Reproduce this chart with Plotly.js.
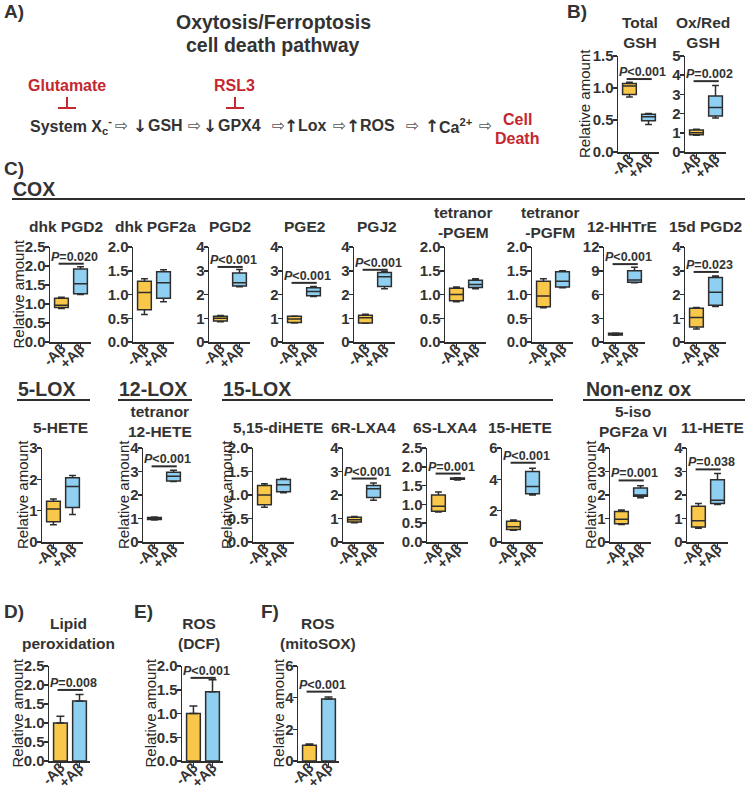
<!DOCTYPE html>
<html><head><meta charset="utf-8">
<script src="https://cdn.plot.ly/plotly-3.0.1.min.js"></script>
<style>html,body{margin:0;padding:0;background:#fff}#chart{width:748px;height:792px}</style>
</head><body><div id="chart"></div>
<script>
// ---------------- DATA ----------------
const groups = ['-Aβ', '+Aβ'];

// Box-plot panels (B + C)
const boxTitles = ['Total<br>GSH', 'Ox/Red<br>GSH',
  'dhk PGD2', 'dhk PGF2a', 'PGD2', 'PGE2', 'PGJ2', 'tetranor<br>-PGEM', 'tetranor<br>-PGFM', '12-HHTrE', '15d PGD2',
  '5-HETE', 'tetranor<br>12-HETE', '5,15-diHETE', '6R-LXA4', '6S-LXA4', '15-HETE', '5-iso<br>PGF2a VI', '11-HETE'];
const negMin = [0.86, 0.87, 0.88, 0.58, 0.85, 0.80, 0.79, 0.85, 0.72, 0.85, 0.55, 0.55, 0.94, 0.74, 0.82, 0.80, 0.75, 0.75, 0.58];
const negQ1  = [0.90, 0.90, 0.91, 0.68, 0.88, 0.82, 0.80, 0.87, 0.74, 0.90, 0.63, 0.65, 0.96, 0.79, 0.85, 0.82, 0.80, 0.78, 0.64];
const negMed = [1.03, 1.00, 0.97, 1.04, 1.00, 0.97, 1.02, 1.00, 0.97, 1.00, 1.03, 1.05, 1.00, 1.00, 0.95, 0.95, 0.97, 0.97, 0.90];
const negQ3  = [1.07, 1.15, 1.15, 1.28, 1.08, 1.08, 1.13, 1.13, 1.28, 1.10, 1.42, 1.30, 1.04, 1.20, 1.05, 1.25, 1.32, 1.30, 1.52];
const negMax = [1.09, 1.19, 1.18, 1.33, 1.12, 1.10, 1.17, 1.16, 1.33, 1.15, 1.45, 1.37, 1.06, 1.24, 1.08, 1.33, 1.40, 1.36, 1.64];
const posMin = [0.43, 1.77, 1.25, 0.85, 2.33, 1.92, 2.24, 1.12, 1.14, 7.50, 1.50, 0.88, 2.57, 1.05, 1.78, 1.65, 3.00, 1.88, 1.60];
const posQ1  = [0.49, 1.88, 1.27, 0.92, 2.36, 1.95, 2.34, 1.15, 1.16, 7.55, 1.55, 1.10, 2.60, 1.07, 1.89, 1.67, 3.08, 1.95, 1.64];
const posMed = [0.55, 2.32, 1.53, 1.25, 2.49, 2.13, 2.75, 1.21, 1.28, 7.82, 2.10, 1.77, 2.80, 1.22, 2.27, 1.68, 3.55, 2.00, 1.78];
const posQ3  = [0.59, 2.92, 1.92, 1.48, 2.91, 2.28, 2.93, 1.30, 1.48, 9.00, 2.72, 2.05, 2.97, 1.33, 2.40, 1.70, 4.50, 2.30, 2.65];
const posMax = [0.60, 3.46, 1.98, 1.52, 3.05, 2.34, 2.97, 1.33, 1.50, 9.45, 2.78, 2.12, 3.05, 1.35, 2.51, 1.71, 4.70, 2.39, 2.92];
const boxP     = ['<0.001', '=0.002', '=0.020', '', '<0.001', '<0.001', '<0.001', '', '', '<0.001', '=0.023',
                  '', '<0.001', '', '<0.001', '=0.001', '<0.001', '=0.001', '=0.038'];
const boxPLine = [1.14, 3.69, 2.06, 0, 3.16, 2.49, 3.04, 0, 0, 9.84, 2.95, 0, 3.22, 0, 2.70, 1.82, 5.06, 2.62, 3.09];
const boxYMax  = [1.5, 5, 2.5, 2.0, 4, 4, 4, 2.0, 2.0, 12, 4, 3, 4, 2.0, 4, 2.5, 6, 4, 4];
const boxYStep = [0.5, 1, 0.5, 0.5, 1, 1, 1, 0.5, 0.5, 3, 1, 1, 1, 0.5, 1, 0.5, 2, 1, 1];

// Bar panels (D, E, F)
const barTitles = ['Lipid<br>peroxidation', 'ROS<br>(DCF)', 'ROS<br>(mitoSOX)'];
const barNeg    = [1.00, 1.00, 1.00];
const barNegErr = [0.18, 0.16, 0.07];
const barPos    = [1.58, 1.46, 3.92];
const barPosErr = [0.17, 0.25, 0.13];
const barP      = ['=0.008', '<0.001', '<0.001'];
const barPLine  = [1.87, 1.75, 4.38];
const barYMax   = [2.5, 2.0, 6];
const barYStep  = [0.5, 0.5, 2];

// ---------------- LAYOUT GEOMETRY (pixels) ----------------
const W = 748, H = 792, PW = 41;
const boxX0  = [618, 685, 50, 133, 209, 283, 354, 445, 532, 604, 685, 42, 143, 253, 343, 427, 502, 610, 687];
const boxRow = [0, 0, 1, 1, 1, 1, 1, 1, 1, 1, 1, 2, 2, 2, 2, 2, 2, 2, 2];
const boxTitleDx = [22, 18, 16, 22, 21, 21, 23, 18, 18, 18, 20, 18, 17, 25, 20, 18, 18, 23, 25];
const boxYT  = {0: 585, 2: 18, 11: 22, 12: 123, 13: 226, 17: 590};
const barX0  = [49, 182, 298];
const barYT  = [17, 150, 278];
const barTitleX = [68, 199, 318];
const rowTop = [56, 247, 448, 666];
const rowBot = [152, 342, 542, 761];
const titleSingle = [32, 227, 427, 633];
const titleDouble = [32.5, 222.5, 421, 633];

const FONT = '"Liberation Sans", Arial, Helvetica, sans-serif';
const TXT = '#333333', LINE = '#2e2e2e', YEL = '#F9C74A', BLU = '#8FCFF1', RED = '#C4272F';

const traces = [];
const layout = {
  width: W, height: H, margin: {l: 0, r: 0, t: 0, b: 0}, showlegend: false,
  paper_bgcolor: '#ffffff', plot_bgcolor: 'rgba(0,0,0,0)',
  font: {family: FONT, color: TXT},
  annotations: [], shapes: []
};

function px(x) { return x / W; }
function py(y) { return 1 - y / H; }
function txt(text, x, y, size, o) {
  o = o || {};
  layout.annotations.push({
    text: text, x: px(x), y: py(y), xref: 'paper', yref: 'paper', showarrow: false,
    xanchor: o.xanchor || 'center', yanchor: o.yanchor || 'middle', textangle: o.angle || 0,
    font: {family: o.family || FONT, size: size, color: o.color || TXT, weight: o.weight || 'bold'}
  });
}
function pline(x0, y0, x1, y1, color, width) {
  layout.shapes.push({type: 'line', xref: 'paper', yref: 'paper', x0: px(x0), y0: py(y0), x1: px(x1), y1: py(y1),
    line: {color: color, width: width}});
}

let axCount = 0;
function addAxes(x0, row, yMax, yStep) {
  axCount++;
  const k = axCount === 1 ? '' : String(axCount);
  layout['xaxis' + k] = {
    domain: [px(x0), px(x0 + PW)], anchor: 'y' + k, type: 'category',
    categoryorder: 'array', categoryarray: groups, range: [-0.6, 1.55],
    showline: true, linecolor: LINE, linewidth: 1.5, ticks: 'outside', ticklen: 5, tickwidth: 1.5, tickcolor: LINE,
    tickangle: -45, ticklabelstandoff: -14, tickfont: {family: FONT, size: 14.5, color: TXT, weight: 'bold'},
    showgrid: false, zeroline: false, fixedrange: true
  };
  layout['yaxis' + k] = {
    domain: [py(rowBot[row]), py(rowTop[row])], anchor: 'x' + k, range: [0, yMax], tick0: 0, dtick: yStep,
    tickformat: (yStep < 1) ? '.1f' : 'd',
    showline: true, linecolor: LINE, linewidth: 1.5, ticks: 'outside', ticklen: 4, tickwidth: 1.5, tickcolor: LINE,
    ticklabelstandoff: -4, tickfont: {family: FONT, size: 15, color: TXT, weight: 'bold'},
    showgrid: false, zeroline: false, fixedrange: true
  };
  return k;
}
function addP(k, label, yLine) {
  if (!label) return;
  layout.shapes.push({type: 'line', xref: 'x' + k, yref: 'y' + k, x0: -0.15, x1: 1.17, y0: yLine, y1: yLine,
    line: {color: LINE, width: 2}});
  layout.annotations.push({text: '<i>P</i>' + label, xref: 'x' + k, yref: 'y' + k, x: 0.5, y: yLine,
    xshift: 4, yshift: -2, showarrow: false, xanchor: 'center', yanchor: 'bottom',
    font: {family: FONT, size: 12.5, color: TXT, weight: 'bold'}});
}
function addTitle(text, xc, row) {
  const y = text.indexOf('<br>') >= 0 ? titleDouble[row] : titleSingle[row];
  txt(text, xc, y, 15.5);
}
function yTitle(x, row) {
  txt('Relative amount', x, (rowTop[row] + rowBot[row]) / 2, 15, {angle: -90, weight: 'normal', color: '#262626'});
}

// Box panels
boxTitles.forEach(function (t, i) {
  const row = boxRow[i];
  const k = addAxes(boxX0[i], row, boxYMax[i], boxYStep[i]);
  const common = {type: 'box', xaxis: 'x' + k, yaxis: 'y' + k, line: {color: LINE, width: 1.5},
    width: 0.72, whiskerwidth: 0.5, boxpoints: false, hoverinfo: 'skip'};
  traces.push(Object.assign({}, common, {x: [groups[0]], q1: [negQ1[i]], median: [negMed[i]], q3: [negQ3[i]],
    lowerfence: [negMin[i]], upperfence: [negMax[i]], fillcolor: YEL}));
  traces.push(Object.assign({}, common, {x: [groups[1]], q1: [posQ1[i]], median: [posMed[i]], q3: [posQ3[i]],
    lowerfence: [posMin[i]], upperfence: [posMax[i]], fillcolor: BLU}));
  addP(k, boxP[i], boxPLine[i]);
  addTitle(t, boxX0[i] + boxTitleDx[i], row);
  if (boxYT[i] !== undefined) yTitle(boxYT[i], row);
});

// Bar panels
barTitles.forEach(function (t, i) {
  const k = addAxes(barX0[i], 3, barYMax[i], barYStep[i]);
  const common = {type: 'bar', xaxis: 'x' + k, yaxis: 'y' + k, width: 0.72, hoverinfo: 'skip'};
  traces.push(Object.assign({}, common, {x: [groups[0]], y: [barNeg[i]],
    marker: {color: YEL, line: {color: LINE, width: 1.5}},
    error_y: {type: 'data', array: [barNegErr[i]], arrayminus: [0], symmetric: false, color: LINE, thickness: 1.5, width: 4}}));
  traces.push(Object.assign({}, common, {x: [groups[1]], y: [barPos[i]],
    marker: {color: BLU, line: {color: LINE, width: 1.5}},
    error_y: {type: 'data', array: [barPosErr[i]], arrayminus: [0], symmetric: false, color: LINE, thickness: 1.5, width: 4}}));
  addP(k, barP[i], barPLine[i]);
  addTitle(t, barTitleX[i], 3);
  yTitle(barYT[i], 3);
});

// Panel letters
txt('A)', 2, 12, 19, {xanchor: 'left'});
txt('B)', 565, 12, 19, {xanchor: 'left'});
txt('C)', 2, 168, 19, {xanchor: 'left'});
txt('D)', 2, 611, 19, {xanchor: 'left'});
txt('E)', 132, 611, 19, {xanchor: 'left'});
txt('F)', 259, 611, 19, {xanchor: 'left'});

// Group headers with rules
txt('COX', 11, 189, 19.5, {xanchor: 'left'});
pline(12, 199, 745, 199, LINE, 2);
txt('5-LOX', 16, 389, 19.5, {xanchor: 'left'});
pline(17, 400, 90, 400, LINE, 2);
txt('12-LOX', 117, 389, 19.5, {xanchor: 'left'});
pline(118, 400, 192, 400, LINE, 2);
txt('15-LOX', 221, 389, 19.5, {xanchor: 'left'});
pline(222, 400, 553, 400, LINE, 2);
txt('Non-enz ox', 584, 389, 19.5, {xanchor: 'left'});
pline(583, 400, 745, 400, LINE, 2);

// Panel A diagram
txt('Oxytosis/Ferroptosis', 273, 22, 19.5);
txt('cell death pathway', 273, 45, 19.5);
txt('Glutamate', 67, 86, 16, {color: RED});
txt('RSL3', 235, 86, 16, {color: RED});
pline(67, 97, 67, 108, RED, 2);
pline(58, 108, 76, 108, RED, 2);
pline(235, 97, 235, 108, RED, 2);
pline(226, 108, 244, 108, RED, 2);
const pathY = 126;
const AF = '"DejaVu Sans", sans-serif';
const DK = '#333333', AR = '#555555';
txt('System X<sub>c</sub><sup>-</sup>', 28, pathY, 16, {xanchor: 'left'});
txt('⇨', 121, pathY, 16, {color: AR, family: AF, weight: 'normal'});
txt('↓', 140, pathY, 17, {color: DK, family: AF});
txt('GSH', 146, pathY, 16, {xanchor: 'left'});
txt('⇨', 194, pathY, 16, {color: AR, family: AF, weight: 'normal'});
txt('↓', 210, pathY, 17, {color: DK, family: AF});
txt('GPX4', 216, pathY, 16, {xanchor: 'left'});
txt('⇨', 278, pathY, 16, {color: AR, family: AF, weight: 'normal'});
txt('↑', 291, pathY, 17, {color: DK, family: AF});
txt('Lox', 296, pathY, 16, {xanchor: 'left'});
txt('⇨', 339, pathY, 16, {color: AR, family: AF, weight: 'normal'});
txt('↑', 353, pathY, 17, {color: DK, family: AF});
txt('ROS', 358, pathY, 16, {xanchor: 'left'});
txt('⇨', 412, pathY, 16, {color: AR, family: AF, weight: 'normal'});
txt('↑', 432, pathY, 17, {color: DK, family: AF});
txt('Ca<sup>2+</sup>', 437, pathY, 16, {xanchor: 'left'});
txt('⇨', 485, pathY, 16, {color: AR, family: AF, weight: 'normal'});
txt('Cell', 517, 119, 16, {color: RED});
txt('Death', 517, 138, 16, {color: RED});

Plotly.newPlot('chart', traces, layout, {staticPlot: true, displayModeBar: false});
</script>
</body></html>
